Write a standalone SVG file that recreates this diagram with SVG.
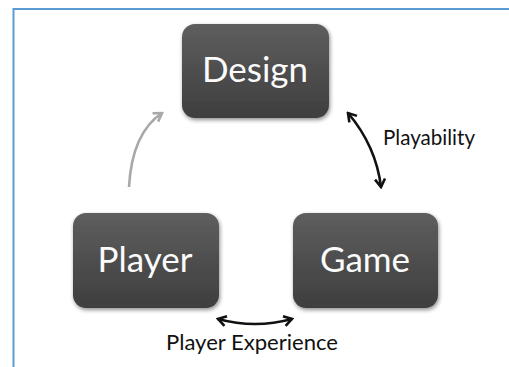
<svg xmlns="http://www.w3.org/2000/svg" width="509" height="367" viewBox="0 0 509 367">
  <defs>
    <linearGradient id="boxFill" x1="0" y1="0" x2="0" y2="1">
      <stop offset="0" stop-color="#5e5e5e"/>
      <stop offset="1" stop-color="#3e3e3e"/>
    </linearGradient>
    <filter id="softShadow" x="-10%" y="-10%" width="125%" height="130%">
      <feGaussianBlur in="SourceAlpha" stdDeviation="2"/>
      <feOffset dx="1" dy="2" result="blur"/>
      <feComponentTransfer><feFuncA type="linear" slope="0.45"/></feComponentTransfer>
      <feMerge><feMergeNode/><feMergeNode in="SourceGraphic"/></feMerge>
    </filter>
    <marker id="headDark" viewBox="-10 -7 12 14" refX="0" refY="0" markerWidth="12" markerHeight="14" markerUnits="userSpaceOnUse" orient="auto-start-reverse">
      <path d="M-8,-5 L0,0 L-8,5" fill="none" stroke="#111" stroke-width="2.6" stroke-linejoin="miter"/>
    </marker>
    <marker id="headGray" viewBox="-10 -7 12 14" refX="0" refY="0" markerWidth="12" markerHeight="14" markerUnits="userSpaceOnUse" orient="auto">
      <path d="M-8,-5 L0,0 L-8,5" fill="none" stroke="#a8a8a8" stroke-width="2.6" stroke-linejoin="miter"/>
    </marker>
  </defs>
  <style>
    .box { fill: url(#boxFill); filter: url(#softShadow); }
    .nodeText { font-family: Lato, "Open Sans", "DejaVu Sans", sans-serif; font-size: 35px; fill: #fbfbfb; text-anchor: middle; }
    .label { font-family: Lato, "Open Sans", "DejaVu Sans", sans-serif; font-size: 21px; fill: #111; }
    .link { fill: none; stroke-width: 2.6; stroke-linecap: butt; }
  </style>

  <!-- frame lines -->
  <path d="M13.5,367 L13.5,9 L509,9" fill="none" stroke="#5b9bd5" stroke-width="2"/>

  <g id="connectors">
    <path class="link" d="M129,187 Q132,133 162,113" stroke="#a8a8a8" marker-end="url(#headGray)"/>
    <path class="link" d="M348,113 Q376,146 381,187" stroke="#111" marker-start="url(#headDark)" marker-end="url(#headDark)"/>
    <path class="link" d="M218,319 Q255,329 292,319" stroke="#111" marker-start="url(#headDark)" marker-end="url(#headDark)"/>
    <text class="label" x="383" y="145" textLength="92" lengthAdjust="spacingAndGlyphs">Playability</text>
    <text class="label" x="166" y="350" textLength="172" lengthAdjust="spacingAndGlyphs">Player Experience</text>
  </g>

  <g id="design">
    <rect class="box" x="182" y="24" width="147" height="94" rx="13"/>
    <text class="nodeText" x="255" y="82">Design</text>
  </g>

  <g id="player">
    <rect class="box" x="73" y="213" width="146" height="95" rx="13"/>
    <text class="nodeText" x="145" y="272">Player</text>
  </g>

  <g id="game">
    <rect class="box" x="293" y="213" width="145" height="95" rx="13"/>
    <text class="nodeText" x="365" y="272">Game</text>
  </g>
</svg>
